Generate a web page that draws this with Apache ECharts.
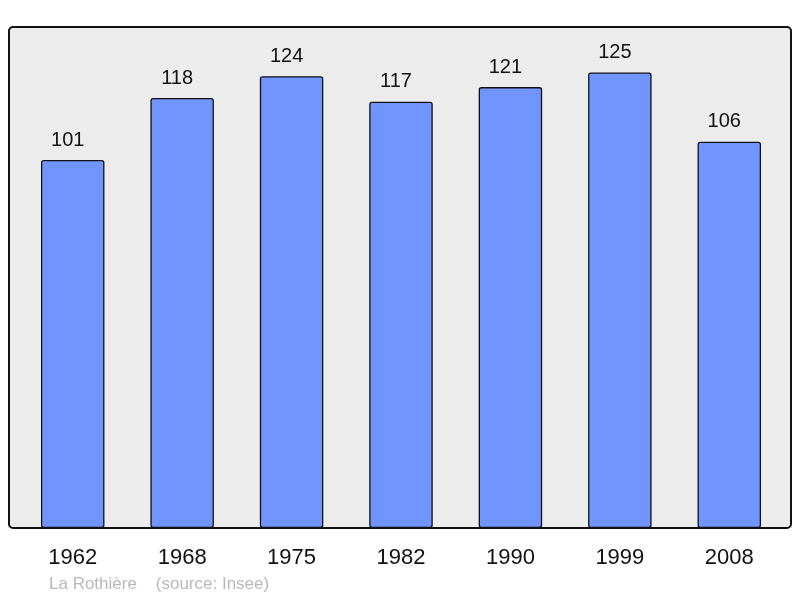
<!DOCTYPE html>
<html><head><meta charset="utf-8">
<script src="https://cdn.jsdelivr.net/npm/echarts@6/dist/echarts.min.js"></script>
<style>html,body{margin:0;padding:0;background:#fff}#c{width:800px;height:598px}</style>
</head><body><div id="c"></div>
<script>
const categories = ['1962','1968','1975','1982','1990','1999','2008'];
const population = [101,118,124,117,121,125,106];
const footer = 'La Rothière    (source: Insee)';

const chart = echarts.init(document.getElementById('c'), null, {renderer:'canvas'});
chart.setOption({
  animation:false,
  textStyle:{fontFamily:'Liberation Sans, Arial, sans-serif'},
  graphic:[
    {type:'rect', shape:{x:9,y:27,width:782,height:501,r:4}, style:{fill:'#ececec',stroke:'#111',lineWidth:2}, z:-10},
    {type:'text', left:49, top:576, style:{text:footer, fill:'#b8b8b8', font:'17px Liberation Sans, Arial, sans-serif'}}
  ],
  grid:{left:18,right:16,top:27,bottom:70},
  xAxis:{type:'category',data:categories,
    axisLine:{show:false},axisTick:{show:false},
    axisLabel:{fontSize:22,color:'#111',margin:19}},
  yAxis:{type:'value',min:0,max:137.5,show:false,splitLine:{show:false}},
  series:[{type:'bar',data:population,barWidth:'58%',
    itemStyle:{color:'#7095ff',borderColor:'#111',borderWidth:1.3,borderRadius:2},
    label:{show:true,position:'top',distance:10,offset:[-5,0],fontSize:20,color:'#111'}}]
});
</script></body></html>
